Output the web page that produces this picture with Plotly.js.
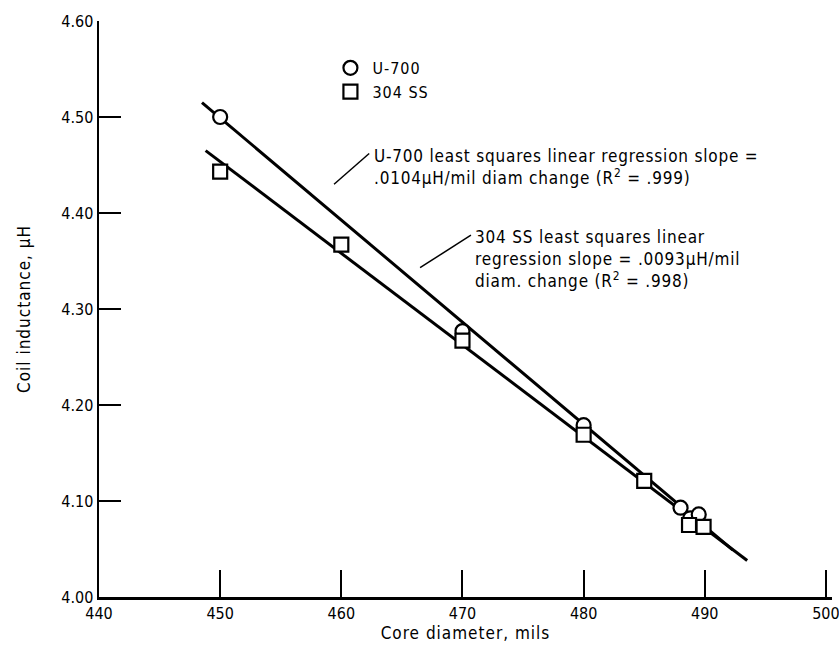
<!DOCTYPE html>
<html>
<head>
<meta charset="utf-8">
<script src="https://cdn.plot.ly/plotly-3.0.1.min.js"></script>
<style>
  html, body { margin: 0; padding: 0; background: #fff; }
  #chart { width: 839px; height: 654px; }
  #chart .annotation-text { letter-spacing: 0.8px; }
  #chart .legendtext { letter-spacing: 1px; }
  #chart .g-xtitle text, #chart .g-ytitle text { letter-spacing: 1px; }
</style>
</head>
<body>
<div id="chart"></div>
<script>
// ---- data ----
const u700Diam = [450, 470, 480, 488, 488.8, 489.5];
const u700Ind  = [4.500, 4.277, 4.179, 4.093, 4.082, 4.086];

const ss304Diam = [450, 460, 470, 480, 485, 488.7, 489.9];
const ss304Ind  = [4.443, 4.367, 4.267, 4.169, 4.121, 4.075, 4.073];

// regression line end points (as drawn)
const u700FitDiam = [448.5, 492.3];
const u700FitInd  = [4.515, 4.049];
const ss304FitDiam = [448.8, 493.5];
const ss304FitInd  = [4.465, 4.038];

const xTicks = [440, 450, 460, 470, 480, 490, 500];
const yTicks = [4.0, 4.1, 4.2, 4.3, 4.4, 4.5, 4.6];

const seriesNames = ['U-700', '304 SS'];
const note1 = 'U-700 least squares linear regression slope =<br>.0104\u03bcH/mil diam change (R<sup>2</sup> = .999)';
const note2 = '304 SS least squares linear<br>regression slope = .0093\u03bcH/mil<br>diam. change (R<sup>2</sup> = .998)';

// ---- chart ----
const FONT = '"DejaVu Sans Condensed", "Liberation Sans Narrow", "Arial Narrow", sans-serif';

const traces = [
  { x: u700FitDiam, y: u700FitInd, mode: 'lines', line: {color: '#000', width: 3}, showlegend: false, hoverinfo: 'skip' },
  { x: ss304FitDiam, y: ss304FitInd, mode: 'lines', line: {color: '#000', width: 3}, showlegend: false, hoverinfo: 'skip' },
  { x: u700Diam, y: u700Ind, mode: 'markers', name: seriesNames[0],
    marker: {symbol: 'circle', size: 14, color: '#fff', line: {color: '#000', width: 2.2}} },
  { x: ss304Diam, y: ss304Ind, mode: 'markers', name: seriesNames[1],
    marker: {symbol: 'square', size: 14, color: '#fff', line: {color: '#000', width: 2.2}} }
];

const layout = {
  width: 839, height: 654,
  margin: {l: 99, r: 7, t: 21, b: 57},
  paper_bgcolor: '#fff', plot_bgcolor: '#fff',
  font: {family: FONT, size: 16, color: '#000'},
  showlegend: true,
  legend: {x: 0.313, y: 0.948, xanchor: 'left', yanchor: 'top', bgcolor: 'rgba(0,0,0,0)',
           font: {family: FONT, size: 16, color: '#000'}, tracegroupgap: 0, itemwidth: 34},
  xaxis: {
    range: [440, 500.5], tickvals: xTicks, ticktext: xTicks.map(String),
    showgrid: false, zeroline: false, showline: true, linecolor: '#000', linewidth: 2.5,
    ticks: 'inside', ticklen: 27, tickwidth: 2, tickcolor: '#000',
    ticklabeloverflow: 'allow',
    tickfont: {family: FONT, size: 16}, mirror: false,
    title: {text: 'Core diameter, mils', font: {family: FONT, size: 17}, standoff: 6}
  },
  yaxis: {
    range: [4.0, 4.6], tickvals: yTicks, ticktext: yTicks.map(v => v.toFixed(2)),
    showgrid: false, zeroline: false, showline: true, linecolor: '#000', linewidth: 2.5,
    ticks: 'inside', ticklen: 22, tickwidth: 2, tickcolor: '#000',
    ticklabeloverflow: 'allow',
    tickfont: {family: FONT, size: 16},
    title: {text: 'Coil inductance, \u03bcH', font: {family: FONT, size: 17}, standoff: 27}
  },
  annotations: [
    { x: 462.55, y: 4.472, xref: 'x', yref: 'y', xanchor: 'left', yanchor: 'top', align: 'left',
      showarrow: false, text: note1, font: {family: FONT, size: 17, color: '#000'} },
    { x: 470.9, y: 4.388, xref: 'x', yref: 'y', xanchor: 'left', yanchor: 'top', align: 'left',
      showarrow: false, text: note2, font: {family: FONT, size: 17, color: '#000'} }
  ],
  shapes: [
    { type: 'line', xref: 'x', yref: 'y', x0: 462.3, y0: 4.462, x1: 459.4, y1: 4.430, line: {color: '#000', width: 1.5} },
    { type: 'line', xref: 'x', yref: 'y', x0: 470.7, y0: 4.377, x1: 466.5, y1: 4.343, line: {color: '#000', width: 1.5} }
  ]
};

Plotly.newPlot('chart', traces, layout, {displayModeBar: false, staticPlot: true});
</script>
</body>
</html>
